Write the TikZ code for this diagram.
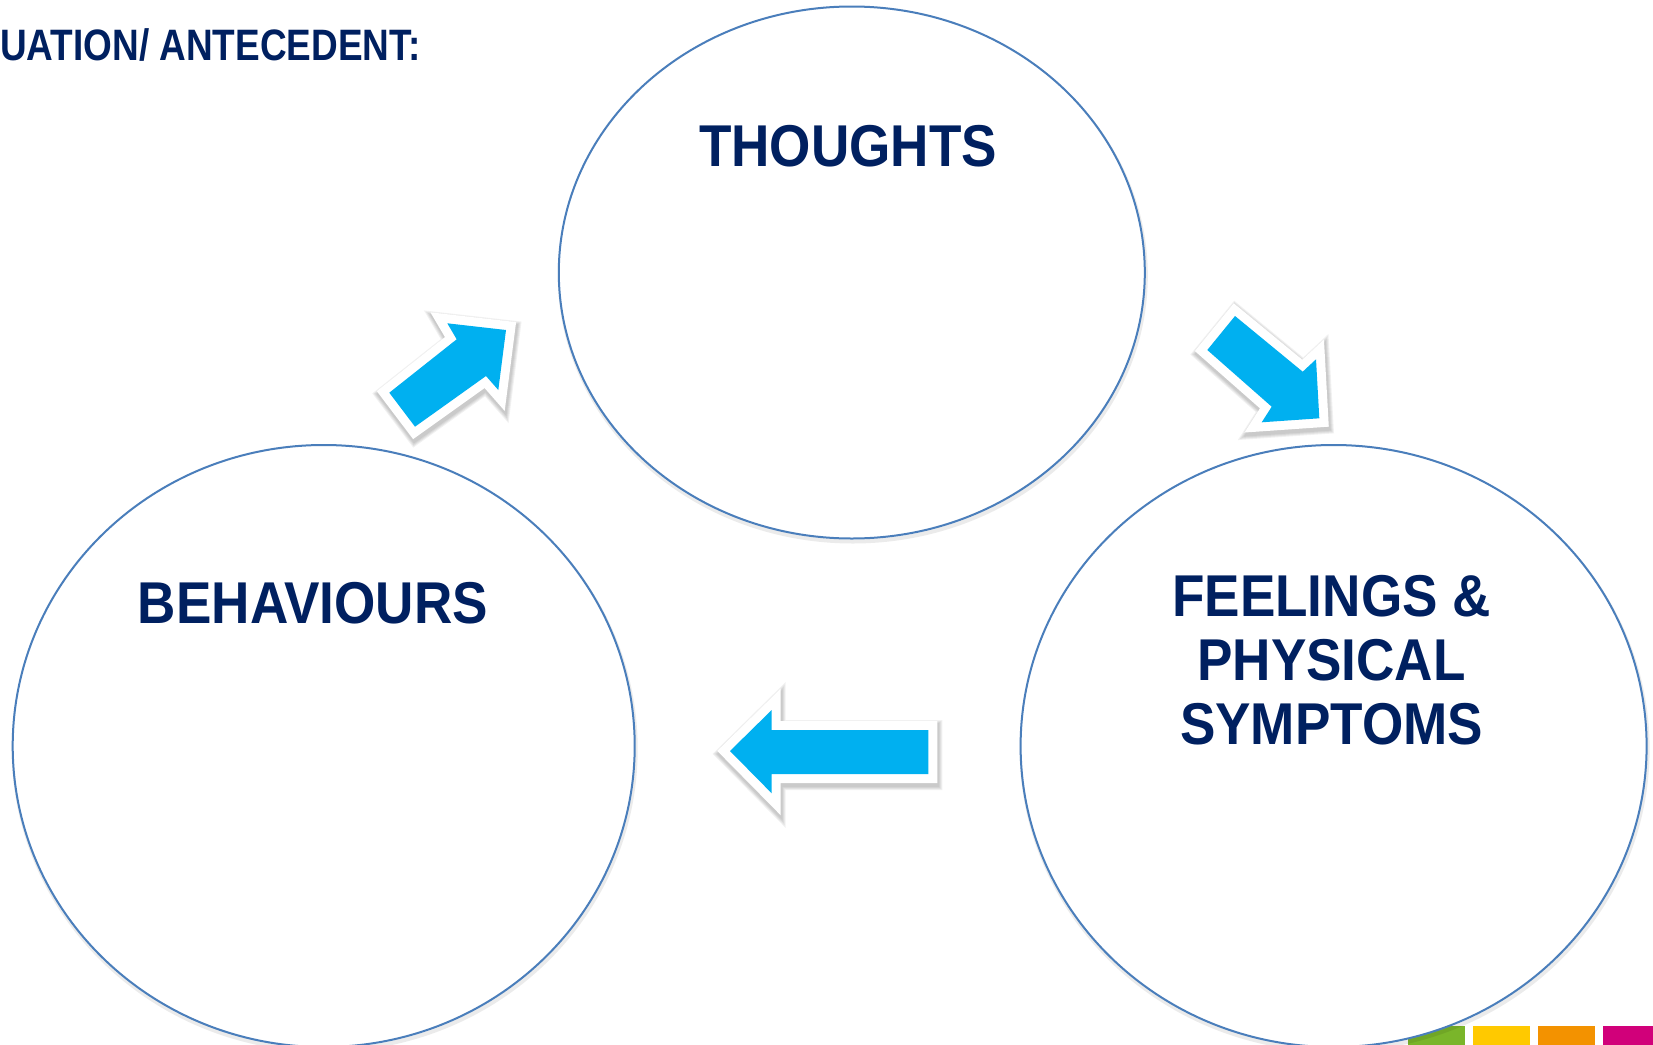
\documentclass[tikz,border=0pt]{standalone}
\usepackage{fontspec}
\setmainfont{Liberation Sans}
\usetikzlibrary{shapes.geometric}
\definecolor{navy}{HTML}{002060}
\definecolor{ringblue}{HTML}{4A7EBB}
\definecolor{arrowblue}{HTML}{00B0F0}
\definecolor{sqgreen}{HTML}{7AB52A}
\definecolor{sqyellow}{HTML}{FFC900}
\definecolor{sqorange}{HTML}{F39200}
\definecolor{sqmagenta}{HTML}{D1007A}
\begin{document}
\begin{tikzpicture}[x=1pt,y=-1pt,
  bubble/.style={draw=ringblue, line width=2pt, fill=white, ellipse, inner sep=0pt},
  bubbleshadow/.style={draw=black, line width=4pt, opacity=0.08, ellipse, inner sep=0pt},
  headtext/.style={text=navy, font=\fontsize{59}{64}\selectfont\bfseries, xscale=0.9, transform shape, inner sep=0pt, align=center},
  arrowshadow/.style={draw=black, fill=black, line width=#1, line join=miter, opacity=0.055},
  arrowborder/.style={draw=white, fill=white, line width=18pt, line join=miter},
  arrowbody/.style={fill=arrowblue}
]
\useasboundingbox (0,0) rectangle (1653,1044);
\clip (0,0) rectangle (1653,1044);
\fill[white] (0,0) rectangle (1653,1044);

% colour strip
\fill[sqgreen]   (1408,1026) rectangle (1465,1050);
\fill[sqyellow]  (1473,1026) rectangle (1530,1050);
\fill[sqorange]  (1538,1026) rectangle (1595,1050);
\fill[sqmagenta] (1603,1026) rectangle (1660,1050);

% title
\node[text=navy, font=\fontsize{44}{48}\selectfont\bfseries, xscale=0.84, transform shape, inner sep=0pt, anchor=base west] (sit) at (0,60) {UATION/ ANTECEDENT:};

% ellipse shadows
\node[bubbleshadow, minimum width=586pt, minimum height=532pt] at (852.8,275.5) {};
\node[bubbleshadow, minimum width=622pt, minimum height=602pt] at (324.7,749) {};
\node[bubbleshadow, minimum width=626pt, minimum height=602pt] at (1334.6,749) {};

% ellipses
\node[bubble, minimum width=586pt, minimum height=532pt] (thoughts) at (851.8,272.5) {};
\node[bubble, minimum width=622pt, minimum height=602pt] (behaviours) at (323.7,746) {};
\node[bubble, minimum width=626pt, minimum height=602pt] (feelings) at (1333.6,746) {};

% texts
\node[headtext, anchor=base] (thoughtsT) at (848,166.6) {THOUGHTS};
\node[headtext, anchor=base] (behavioursT) at (313,623) {BEHAVIOURS};
\node[headtext, anchor=center] (feelingsT) at (1331.5,660.5) {FEELINGS \&\\PHYSICAL\\SYMPTOMS};

% arrow: behaviours -> thoughts (up-right)
\begin{scope}[shift={(1,3)}]
\foreach \w in {20,22,24,26}
  \filldraw[arrowshadow=\w pt] (389.3,392.7) -- (456.7,339.3) -- (447.3,323.3) -- (506,330) -- (498.3,390) -- (486,376) -- (415,426.7) -- cycle;
\end{scope}
\filldraw[arrowborder] (389.3,392.7) -- (456.7,339.3) -- (447.3,323.3) -- (506,330) -- (498.3,390) -- (486,376) -- (415,426.7) -- cycle;
\fill[arrowbody] (389.3,392.7) -- (456.7,339.3) -- (447.3,323.3) -- (506,330) -- (498.3,390) -- (486,376) -- (415,426.7) -- cycle;

% arrow: thoughts -> feelings (down-right)
\begin{scope}[shift={(1,3)}]
\foreach \w in {20,22,24,26}
  \filldraw[arrowshadow=\w pt] (1235,316) -- (1302.7,371.7) -- (1316,359.3) -- (1319.3,418.3) -- (1261.7,422.3) -- (1271.7,406.7) -- (1207.3,350) -- cycle;
\end{scope}
\filldraw[arrowborder] (1235,316) -- (1302.7,371.7) -- (1316,359.3) -- (1319.3,418.3) -- (1261.7,422.3) -- (1271.7,406.7) -- (1207.3,350) -- cycle;
\fill[arrowbody] (1235,316) -- (1302.7,371.7) -- (1316,359.3) -- (1319.3,418.3) -- (1261.7,422.3) -- (1271.7,406.7) -- (1207.3,350) -- cycle;

% arrow: feelings -> behaviours (left)
\begin{scope}[shift={(1,3)}]
\foreach \w in {20,22,24,26}
  \filldraw[arrowshadow=\w pt] (730,751) -- (771.7,710) -- (771.7,730) -- (928.3,730) -- (928.3,774) -- (771.7,774) -- (771.7,793.3) -- cycle;
\end{scope}
\filldraw[arrowborder] (730,751) -- (771.7,710) -- (771.7,730) -- (928.3,730) -- (928.3,774) -- (771.7,774) -- (771.7,793.3) -- cycle;
\fill[arrowbody] (730,751) -- (771.7,710) -- (771.7,730) -- (928.3,730) -- (928.3,774) -- (771.7,774) -- (771.7,793.3) -- cycle;
\end{tikzpicture}
\end{document}
